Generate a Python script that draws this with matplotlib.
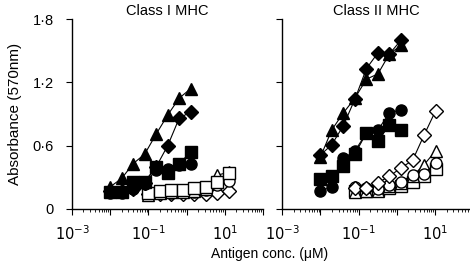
import numpy as np
import matplotlib
matplotlib.use("Agg")
import matplotlib.pyplot as plt
from matplotlib.ticker import LogLocator, FixedLocator, NullFormatter, FixedFormatter

plt.rcParams['font.family'] = ['Liberation Sans', 'DejaVu Sans']

# concentrations (uM), doubling dilutions
conc_filled = [0.01, 0.02, 0.04, 0.08, 0.16, 0.32, 0.64, 1.28]
conc_open_I = [0.1, 0.2, 0.4, 0.8, 1.6, 3.2, 6.4, 12.8]
conc_open_II = [0.08, 0.16, 0.32, 0.64, 1.28, 2.56, 5.12, 10.24]

# Class I MHC
I_tri_f = [0.21, 0.29, 0.43, 0.52, 0.71, 0.89, 1.05, 1.14]
I_dia_f = [0.17, 0.17, 0.19, 0.25, 0.40, 0.60, 0.86, 0.92]
I_sq_f = [0.16, 0.16, 0.26, 0.26, 0.40, 0.34, 0.43, 0.54]
I_cir_f = [0.15, 0.15, 0.19, 0.24, 0.37, 0.38, 0.42, 0.43]
I_sq_o = [0.15, 0.17, 0.18, 0.18, 0.20, 0.21, 0.26, 0.34]
I_tri_o = [0.13, 0.15, 0.16, 0.16, 0.17, 0.19, 0.32, 0.35]
I_cir_o = [0.14, 0.15, 0.15, 0.16, 0.16, 0.18, 0.23, 0.27]
I_dia_o = [0.14, 0.14, 0.14, 0.14, 0.14, 0.14, 0.15, 0.17]

# Class II MHC
II_tri_f = [0.49, 0.75, 0.91, 1.05, 1.23, 1.28, 1.47, 1.55]
II_dia_f = [0.51, 0.61, 0.79, 1.04, 1.33, 1.48, 1.47, 1.60]
II_cir_f = [0.17, 0.21, 0.48, 0.55, 0.72, 0.75, 0.91, 0.94]
II_sq_f = [0.28, 0.31, 0.41, 0.52, 0.72, 0.64, 0.80, 0.75]
II_dia_o = [0.20, 0.20, 0.25, 0.31, 0.39, 0.46, 0.70, 0.93]
II_tri_o = [0.16, 0.17, 0.17, 0.22, 0.25, 0.31, 0.42, 0.55]
II_cir_o = [0.21, 0.20, 0.19, 0.23, 0.26, 0.32, 0.33, 0.44]
II_sq_o = [0.17, 0.17, 0.18, 0.20, 0.22, 0.26, 0.31, 0.38]

yticks = [0, 0.6, 1.2, 1.8]
ytick_labels = ["0", "0·6", "1·2", "1·8"]
xtick_major = [1e-3, 1e-2, 1e-1, 1e0, 1e1, 1e2]
xtick_labels = ["$10^{-3}$", "", "$10^{-1}$", "", "$10^{1}$", ""]

W, H = 470, 267
fig = plt.figure(figsize=(W / 100, H / 100), dpi=100)

def add_ax(x0, x1, y0, y1):
    return fig.add_axes([x0 / W, 1 - y1 / H, (x1 - x0) / W, (y1 - y0) / H])

axL = add_ax(72, 263, 19, 209)
axR = add_ax(282, 470, 19, 209)

ms = 8
msd = 7
def series(ax, x, y, marker, filled, msz=ms):
    ax.plot(x, y, '-', color='black', lw=0.8, marker=marker, markersize=msz,
            markerfacecolor='black' if filled else 'white',
            markeredgecolor='black', markeredgewidth=1.0, clip_on=False)

# left
series(axL, conc_open_I, I_dia_o, 'D', False, msd)
series(axL, conc_open_I, I_cir_o, 'o', False)
series(axL, conc_open_I, I_tri_o, '^', False)
series(axL, conc_open_I, I_sq_o, 's', False)
series(axL, conc_filled, I_cir_f, 'o', True)
series(axL, conc_filled, I_sq_f, 's', True)
series(axL, conc_filled, I_dia_f, 'D', True, msd)
series(axL, conc_filled, I_tri_f, '^', True)

# right
series(axR, conc_open_II, II_sq_o, 's', False)
series(axR, conc_open_II, II_tri_o, '^', False)
series(axR, conc_open_II, II_cir_o, 'o', False)
series(axR, conc_open_II, II_dia_o, 'D', False, msd)
series(axR, conc_filled, II_sq_f, 's', True)
series(axR, conc_filled, II_cir_f, 'o', True)
series(axR, conc_filled, II_tri_f, '^', True)
series(axR, conc_filled, II_dia_f, 'D', True, msd)

for ax, xmax, title in [(axL, 1e2, "Class I MHC"), (axR, 10 ** (-3 + 188 / 38.3), "Class II MHC")]:
    ax.set_xscale('log')
    ax.set_xlim(1e-3, xmax)
    ax.set_ylim(0, 1.8)
    ax.spines['top'].set_visible(False)
    ax.spines['right'].set_visible(False)
    ax.spines['left'].set_linewidth(1.0)
    ax.spines['bottom'].set_linewidth(1.0)
    ax.xaxis.set_major_locator(FixedLocator(xtick_major))
    ax.xaxis.set_major_formatter(FixedFormatter(xtick_labels))
    ax.xaxis.set_minor_locator(LogLocator(base=10, subs=np.arange(2, 10), numticks=20))
    ax.xaxis.set_minor_formatter(NullFormatter())
    ax.tick_params(axis='x', which='major', length=4, width=0.8, labelsize=10.5, pad=7)
    ax.tick_params(axis='x', which='minor', length=2, width=0.6)
    ax.set_yticks(yticks)
    ax.tick_params(axis='y', length=4, width=0.8, labelsize=10.5, pad=9)
    ax.set_title(title, fontsize=10.5, pad=3)
    ax.patch.set_alpha(0)

axL.set_yticklabels(ytick_labels)
axR.set_yticklabels([])
axL.set_ylabel("Absorbance (570nm)", fontsize=11, labelpad=8)

fig.text(270 / W, 1 - 254 / H, "Antigen conc. (μM)", ha='center', va='center', fontsize=10)

fig.savefig("out.png", dpi=100)
